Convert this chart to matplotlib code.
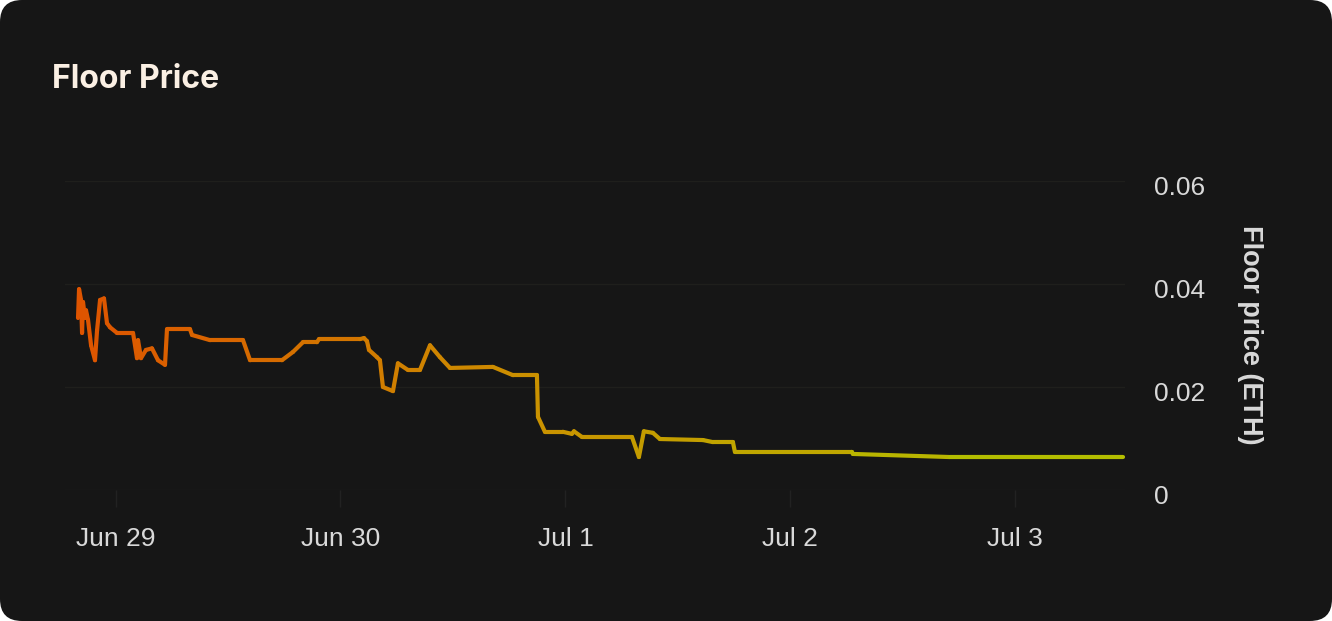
import numpy as np
import matplotlib
matplotlib.use("Agg")
import matplotlib.pyplot as plt
import matplotlib.dates as mdates
import matplotlib.transforms as mtransforms
from matplotlib.collections import LineCollection
from matplotlib.colors import LinearSegmentedColormap
from matplotlib.patches import FancyBboxPatch
from datetime import datetime, timedelta

# hours since Jun 29 00:00, floor price in ETH
hours = [-4.0, -3.89, -3.68, -3.57, -3.47, -3.25, -3.15, -2.93, -2.61, -2.19,
         -1.97, -1.65, -1.23, -0.91, -0.59, 0.16, 1.87, 2.29, 2.40, 2.72,
         3.25, 3.89, 4.53, 5.28, 5.49, 7.95, 8.16, 10.08, 13.60, 14.35,
         17.76, 18.93, 20.00, 21.49, 21.71, 26.08, 26.51, 26.83, 27.04, 27.89,
         28.21, 28.53, 29.60, 30.13, 31.20, 32.48, 33.55, 34.61, 35.68, 40.27,
         42.40, 44.96, 45.07, 45.81, 47.73, 48.69, 48.91, 49.76, 55.10, 55.84,
         56.37, 57.33, 58.08, 62.67, 63.73, 65.87, 66.08, 78.56, 78.67, 89.01,
         107.47]
price = [0.0334, 0.0390, 0.0369, 0.0305, 0.0365, 0.0334, 0.0349, 0.0330, 0.0281, 0.0252,
         0.0310, 0.0369, 0.0372, 0.0324, 0.0316, 0.0305, 0.0305, 0.0256, 0.0291, 0.0256,
         0.0272, 0.0275, 0.0252, 0.0243, 0.0312, 0.0312, 0.0301, 0.0291, 0.0291, 0.0252,
         0.0252, 0.0268, 0.0287, 0.0287, 0.0293, 0.0293, 0.0295, 0.0289, 0.0272, 0.0258,
         0.0252, 0.0200, 0.0192, 0.0246, 0.0233, 0.0233, 0.0281, 0.0258, 0.0237, 0.0239,
         0.0223, 0.0223, 0.0142, 0.0113, 0.0113, 0.0109, 0.0114, 0.0103, 0.0103, 0.0064,
         0.0114, 0.0111, 0.0099, 0.0097, 0.0093, 0.0093, 0.0074, 0.0074, 0.0070, 0.0064,
         0.0064]
y_ticks = [0, 0.02, 0.04, 0.06]

start = datetime(2022, 6, 29)
t = [mdates.date2num(start + timedelta(hours=h)) for h in hours]

BG = '#161616'
TXT = '#d9d9d9'
fig = plt.figure(figsize=(13.32, 6.21), dpi=100, facecolor='white')
card = FancyBboxPatch((0, 0), 13.32, 6.21, boxstyle="round,pad=0,rounding_size=0.22",
                      transform=fig.dpi_scale_trans, facecolor=BG, edgecolor='none', zorder=-10)
fig.patches.append(card)

ax = fig.add_axes([65/1332, 1-490/621, 1060/1332, 309/621])
ax.set_facecolor('none')

# gradient line
pts = np.array([t, price]).T.reshape(-1, 1, 2)
segs = np.concatenate([pts[:-1], pts[1:]], axis=1)
cmap = LinearSegmentedColormap.from_list('fp', ['#de5400', '#d47000', '#cc8e00', '#c1a300', '#b6bc00', '#a9c900'])
lc = LineCollection(segs, cmap=cmap, linewidths=3.0, capstyle='round', joinstyle='round')
lc.set_array(np.array(t[:-1]))
lc.set_clim(t[0], t[-1])
ax.add_collection(lc)

x0 = mdates.date2num(start + timedelta(hours=-5.39))
x1 = mdates.date2num(start + timedelta(hours=107.7))
ax.set_xlim(x0, x1)
ax.set_ylim(0, 0.06)

for s in ax.spines.values():
    s.set_visible(False)

ax.set_yticks(y_ticks)
ax.yaxis.tick_right()
ax.set_yticklabels(['0' if v == 0 else f'{v:.2f}' for v in y_ticks])
ax.tick_params(axis='y', length=0, pad=21, labelsize=19, labelcolor=TXT)
shift = mtransforms.ScaledTranslation(0, -3/72, fig.dpi_scale_trans)
for lab in ax.get_yticklabels():
    lab.set_fontfamily('Liberation Sans')
    lab.set_transform(lab.get_transform() + shift)
ax.grid(axis='y', color='#1f1f1c', linewidth=1)

ax.xaxis.set_major_locator(mdates.DayLocator())
ax.xaxis.set_major_formatter(plt.FuncFormatter(
    lambda v, p: f"{mdates.num2date(v):%b} {mdates.num2date(v).day}"))
ax.tick_params(axis='x', length=12, width=1, color='#222222', pad=15,
               labelsize=19, labelcolor=TXT)
for lab in ax.get_xticklabels():
    lab.set_fontfamily('Liberation Sans')

fig.text(52/1332, 1-80/621, 'Floor Price', fontsize=23, fontweight='bold',
         color='#fbf0e4', family='Inter', va='center', ha='left')
fig.text(1250/1332, 1-335/621, 'Floor price (ETH)', fontsize=19.5, fontweight='bold',
         color=TXT, family='Liberation Sans', rotation=270, va='center', ha='center')

fig.savefig('out.png', dpi=100, facecolor='white')
